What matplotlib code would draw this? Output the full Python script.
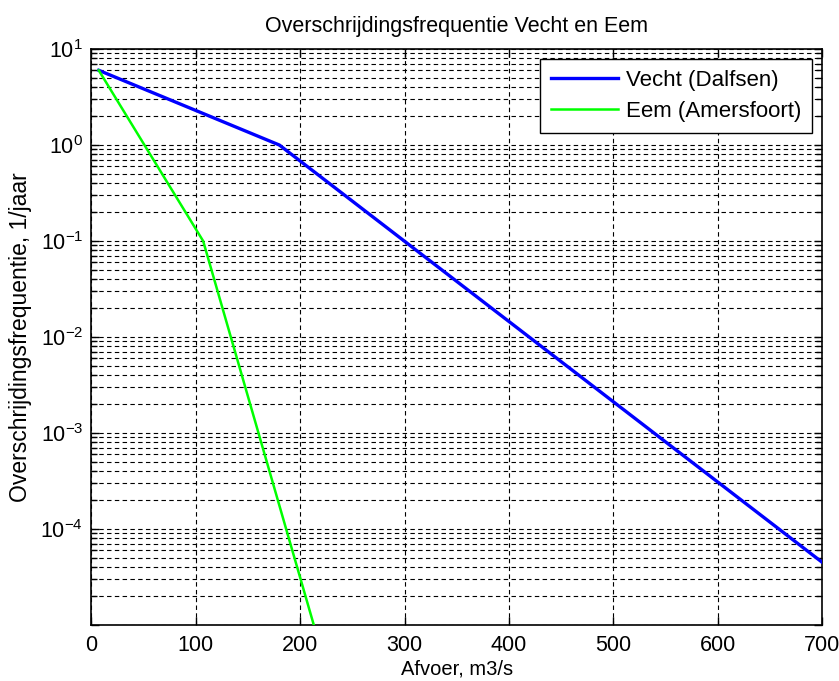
import matplotlib
matplotlib.use('Agg')
import matplotlib.pyplot as plt
from matplotlib.ticker import LogLocator, NullFormatter

plt.rcParams['font.family'] = ['Liberation Sans', 'DejaVu Sans']
plt.rcParams['mathtext.fontset'] = 'custom'
plt.rcParams['mathtext.rm'] = 'Liberation Sans'
plt.rcParams['mathtext.it'] = 'Liberation Sans'

# afvoer (m3/s) en overschrijdingsfrequentie (1/jaar)
vecht_q = [7, 180, 700]
vecht_f = [6.0, 1.0, 4.5e-5]
eem_q = [7, 107, 213]
eem_f = [6.0, 0.1, 1e-5]

xticks = [0, 100, 200, 300, 400, 500, 600, 700]
yticks = [1e-5, 1e-4, 1e-3, 1e-2, 1e-1, 1e0, 1e1]
ylabels = ['', r'$10^{-4}$', r'$10^{-3}$', r'$10^{-2}$', r'$10^{-1}$', r'$10^{0}$', r'$10^{1}$']

fig = plt.figure(figsize=(8.39, 6.81), dpi=100)
ax = fig.add_axes([0.109, 0.0822, 0.871, 0.8458])

ax.semilogy(vecht_q, vecht_f, color='#0000ff', lw=2.4, label='Vecht (Dalfsen)', zorder=3)
ax.semilogy(eem_q, eem_f, color='#00ff00', lw=1.8, label='Eem (Amersfoort)', zorder=3)

ax.set_xlim(0, 700)
ax.set_ylim(1e-5, 10)
ax.set_xticks(xticks)
ax.set_yticks(yticks)
ax.set_yticklabels(ylabels)
ax.yaxis.set_minor_locator(LogLocator(base=10, subs=range(2, 10), numticks=20))
ax.yaxis.set_minor_formatter(NullFormatter())

ax.tick_params(which='both', direction='in', top=True, right=True, labelsize=15.5, width=1)
ax.tick_params(which='major', length=6)
ax.tick_params(which='minor', length=4)
ax.tick_params(axis='x', pad=7)
ax.tick_params(axis='y', pad=6)

dash = (0, (4, 3))
ax.grid(which='major', axis='both', color='black', lw=0.8, linestyle=dash)
ax.grid(which='minor', axis='y', color='black', lw=0.8, linestyle=dash)
for s in ax.spines.values():
    s.set_linewidth(1.2)

ax.set_title('Overschrijdingsfrequentie Vecht en Eem', fontsize=15.5, pad=12)
ax.set_xlabel('Afvoer, m3/s', fontsize=14.5, labelpad=2.5)
ax.set_ylabel('Overschrijdingsfrequentie, 1/jaar', fontsize=16.5, labelpad=6)

leg = ax.legend(loc='upper right', fontsize=16, fancybox=False, framealpha=1,
                edgecolor='black', handlelength=3.0, handletextpad=0.35,
                borderaxespad=0.45, borderpad=0.5, labelspacing=0.45)
leg.get_frame().set_linewidth(1.0)

fig.savefig('out.png', dpi=100)
